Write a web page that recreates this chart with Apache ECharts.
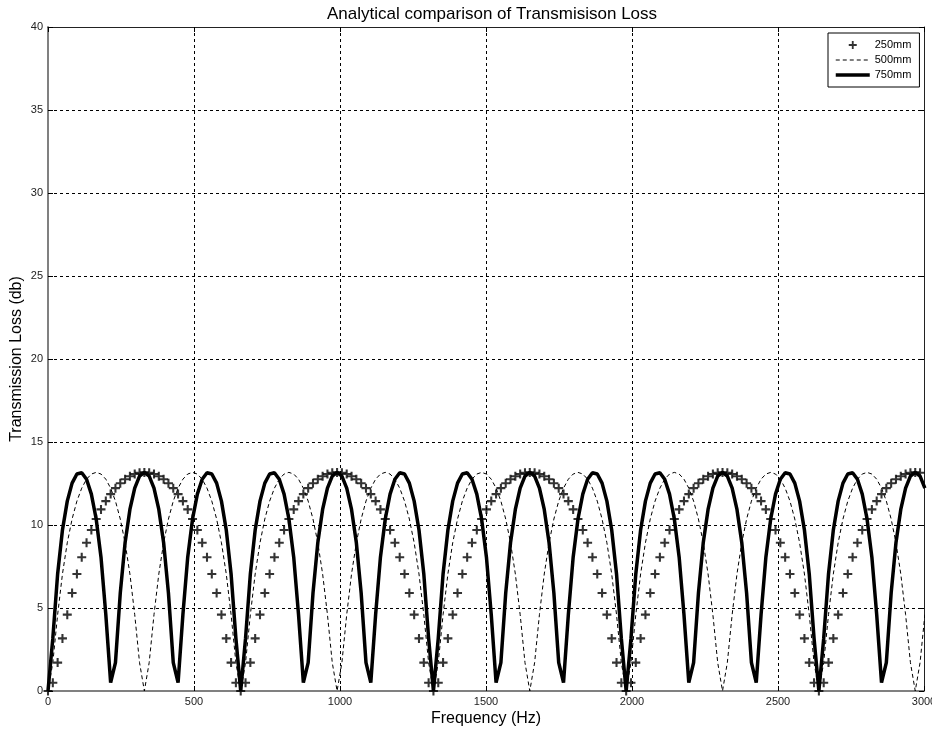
<!DOCTYPE html>
<html><head><meta charset="utf-8">
<script src="https://cdn.jsdelivr.net/npm/echarts@6/dist/echarts.min.js"></script>
<style>html,body{margin:0;padding:0;background:#fff}#c{width:932px;height:732px}</style>
</head><body><div id="c"></div>
<script>
const titleText = 'Analytical comparison of Transmisison Loss';
const xTitle = 'Frequency (Hz)';
const yTitle = 'Transmission Loss (db)';
const seriesNames = ['250mm', '500mm', '750mm'];
const xMin = 0, xMax = 3000, xStep = 500;
const yMin = 0, yMax = 40, yStep = 5;

const freq = [
0,16.5,33,49.5,66,82.5,99,115.5,132,148.5,
165,181.5,198,214.5,231,247.5,264,280.5,297,313.5,
330,346.5,363,379.5,396,412.5,429,445.5,462,478.5,
495,511.5,528,544.5,561,577.5,594,610.5,627,643.5,
660,676.5,693,709.5,726,742.5,759,775.5,792,808.5,
825,841.5,858,874.5,891,907.5,924,940.5,957,973.5,
990,1006.5,1023,1039.5,1056,1072.5,1089,1105.5,1122,1138.5,
1155,1171.5,1188,1204.5,1221,1237.5,1254,1270.5,1287,1303.5,
1320,1336.5,1353,1369.5,1386,1402.5,1419,1435.5,1452,1468.5,
1485,1501.5,1518,1534.5,1551,1567.5,1584,1600.5,1617,1633.5,
1650,1666.5,1683,1699.5,1716,1732.5,1749,1765.5,1782,1798.5,
1815,1831.5,1848,1864.5,1881,1897.5,1914,1930.5,1947,1963.5,
1980,1996.5,2013,2029.5,2046,2062.5,2079,2095.5,2112,2128.5,
2145,2161.5,2178,2194.5,2211,2227.5,2244,2260.5,2277,2293.5,
2310,2326.5,2343,2359.5,2376,2392.5,2409,2425.5,2442,2458.5,
2475,2491.5,2508,2524.5,2541,2557.5,2574,2590.5,2607,2623.5,
2640,2656.5,2673,2689.5,2706,2722.5,2739,2755.5,2772,2788.5,
2805,2821.5,2838,2854.5,2871,2887.5,2904,2920.5,2937,2953.5,
2970,2986.5,3003
];

const tl250 = [
0,0.50,1.71,3.17,4.60,5.90,7.05,8.06,8.93,9.70,
10.36,10.94,11.44,11.86,12.22,12.52,12.76,12.94,13.07,13.15,
13.17,13.15,13.07,12.94,12.76,12.52,12.22,11.86,11.44,10.94,
10.36,9.70,8.93,8.06,7.05,5.90,4.60,3.17,1.71,0.50,
0,0.50,1.71,3.17,4.60,5.90,7.05,8.06,8.93,9.70,
10.36,10.94,11.44,11.86,12.22,12.52,12.76,12.94,13.07,13.15,
13.17,13.15,13.07,12.94,12.76,12.52,12.22,11.86,11.44,10.94,
10.36,9.70,8.93,8.06,7.05,5.90,4.60,3.17,1.71,0.50,
0,0.50,1.71,3.17,4.60,5.90,7.05,8.06,8.93,9.70,
10.36,10.94,11.44,11.86,12.22,12.52,12.76,12.94,13.07,13.15,
13.17,13.15,13.07,12.94,12.76,12.52,12.22,11.86,11.44,10.94,
10.36,9.70,8.93,8.06,7.05,5.90,4.60,3.17,1.71,0.50,
0,0.50,1.71,3.17,4.60,5.90,7.05,8.06,8.93,9.70,
10.36,10.94,11.44,11.86,12.22,12.52,12.76,12.94,13.07,13.15,
13.17,13.15,13.07,12.94,12.76,12.52,12.22,11.86,11.44,10.94,
10.36,9.70,8.93,8.06,7.05,5.90,4.60,3.17,1.71,0.50,
0,0.50,1.71,3.17,4.60,5.90,7.05,8.06,8.93,9.70,
10.36,10.94,11.44,11.86,12.22,12.52,12.76,12.94,13.07,13.15,
13.17,13.15,13.07
];

const tl500 = [
0,1.71,4.60,7.05,8.93,10.36,11.44,12.22,12.76,13.07,
13.17,13.07,12.76,12.22,11.44,10.36,8.93,7.05,4.60,1.71,
0,1.71,4.60,7.05,8.93,10.36,11.44,12.22,12.76,13.07,
13.17,13.07,12.76,12.22,11.44,10.36,8.93,7.05,4.60,1.71,
0,1.71,4.60,7.05,8.93,10.36,11.44,12.22,12.76,13.07,
13.17,13.07,12.76,12.22,11.44,10.36,8.93,7.05,4.60,1.71,
0,1.71,4.60,7.05,8.93,10.36,11.44,12.22,12.76,13.07,
13.17,13.07,12.76,12.22,11.44,10.36,8.93,7.05,4.60,1.71,
0,1.71,4.60,7.05,8.93,10.36,11.44,12.22,12.76,13.07,
13.17,13.07,12.76,12.22,11.44,10.36,8.93,7.05,4.60,1.71,
0,1.71,4.60,7.05,8.93,10.36,11.44,12.22,12.76,13.07,
13.17,13.07,12.76,12.22,11.44,10.36,8.93,7.05,4.60,1.71,
0,1.71,4.60,7.05,8.93,10.36,11.44,12.22,12.76,13.07,
13.17,13.07,12.76,12.22,11.44,10.36,8.93,7.05,4.60,1.71,
0,1.71,4.60,7.05,8.93,10.36,11.44,12.22,12.76,13.07,
13.17,13.07,12.76,12.22,11.44,10.36,8.93,7.05,4.60,1.71,
0,1.71,4.60,7.05,8.93,10.36,11.44,12.22,12.76,13.07,
13.17,13.07,12.76,12.22,11.44,10.36,8.93,7.05,4.60,1.71,
0,1.71,4.60
];

const tl750 = [
0,3.17,7.05,9.70,11.44,12.52,13.07,13.15,12.76,11.86,
10.36,8.06,4.60,0.50,1.71,5.90,8.93,10.94,12.22,12.94,
13.17,12.94,12.22,10.94,8.93,5.90,1.71,0.50,4.60,8.06,
10.36,11.86,12.76,13.15,13.07,12.52,11.44,9.70,7.05,3.17,
0,3.17,7.05,9.70,11.44,12.52,13.07,13.15,12.76,11.86,
10.36,8.06,4.60,0.50,1.71,5.90,8.93,10.94,12.22,12.94,
13.17,12.94,12.22,10.94,8.93,5.90,1.71,0.50,4.60,8.06,
10.36,11.86,12.76,13.15,13.07,12.52,11.44,9.70,7.05,3.17,
0,3.17,7.05,9.70,11.44,12.52,13.07,13.15,12.76,11.86,
10.36,8.06,4.60,0.50,1.71,5.90,8.93,10.94,12.22,12.94,
13.17,12.94,12.22,10.94,8.93,5.90,1.71,0.50,4.60,8.06,
10.36,11.86,12.76,13.15,13.07,12.52,11.44,9.70,7.05,3.17,
0,3.17,7.05,9.70,11.44,12.52,13.07,13.15,12.76,11.86,
10.36,8.06,4.60,0.50,1.71,5.90,8.93,10.94,12.22,12.94,
13.17,12.94,12.22,10.94,8.93,5.90,1.71,0.50,4.60,8.06,
10.36,11.86,12.76,13.15,13.07,12.52,11.44,9.70,7.05,3.17,
0,3.17,7.05,9.70,11.44,12.52,13.07,13.15,12.76,11.86,
10.36,8.06,4.60,0.50,1.71,5.90,8.93,10.94,12.22,12.94,
13.17,12.94,12.22
];

const pairs = (ys) => freq.map((f, i) => [f, ys[i]]);
const FONT = 'Liberation Sans, Arial, sans-serif';
const plusPath = 'path://M3.85,0H6.15V3.85H10V6.15H6.15V10H3.85V6.15H0V3.85H3.85Z';
const plainNum = (v) => String(v);

const chart = echarts.init(document.getElementById('c'), null, {renderer: 'canvas'});
chart.setOption({
  animation: false,
  backgroundColor: '#fff',
  title: {
    text: titleText, left: 322, top: 1,
    textStyle: {fontFamily: FONT, fontSize: 17, fontWeight: 'normal', color: '#000'}
  },
  grid: {left: 48, right: 8, top: 27, bottom: 41, containLabel: false, outerBoundsMode: 'none'},
  legend: {
    orient: 'vertical', left: 828, top: 33, align: 'left',
    itemWidth: 34, itemHeight: 8, itemGap: 3,
    padding: [6, 8, 6, 6],
    borderColor: '#000', borderWidth: 1, backgroundColor: '#fff',
    textStyle: {fontFamily: FONT, fontSize: 11, color: '#000', lineHeight: 12},
    data: [
      {name: seriesNames[0]},
      {name: seriesNames[1], itemStyle: {opacity: 0, color: 'rgba(0,0,0,0)', borderWidth: 0},
       lineStyle: {width: 1, type: [4, 3], color: '#000'}},
      {name: seriesNames[2], itemStyle: {opacity: 0, color: 'rgba(0,0,0,0)', borderWidth: 0},
       lineStyle: {width: 3.5, color: '#000'}}
    ]
  },
  xAxis: [{
    type: 'value', min: xMin, max: xMax, interval: xStep, position: 'bottom',
    name: xTitle, nameLocation: 'middle', nameGap: 20, nameMoveOverlap: false,
    nameTextStyle: {fontFamily: FONT, fontSize: 16, color: '#000'},
    axisLine: {show: true, onZero: false, lineStyle: {color: '#808080', width: 2}},
    axisTick: {show: true, inside: true, length: 5, lineStyle: {color: '#000'}},
    axisLabel: {margin: 5, fontFamily: FONT, fontSize: 11, color: '#222', formatter: plainNum},
    splitLine: {show: true, lineStyle: {color: '#000', width: 1, type: [3, 3]}}
  }, {
    type: 'value', min: xMin, max: xMax, interval: xStep, position: 'top',
    axisLine: {show: true, onZero: false, lineStyle: {color: '#222', width: 1}},
    axisTick: {show: true, inside: true, length: 5, lineStyle: {color: '#000'}},
    axisLabel: {show: false}, splitLine: {show: false}
  }],
  yAxis: [{
    type: 'value', min: yMin, max: yMax, interval: yStep, position: 'left',
    name: yTitle, nameLocation: 'middle', nameGap: 23, nameMoveOverlap: false,
    nameTextStyle: {fontFamily: FONT, fontSize: 16, color: '#000'},
    axisLine: {show: true, onZero: false, lineStyle: {color: '#808080', width: 2}},
    axisTick: {show: true, inside: true, length: 5, lineStyle: {color: '#000'}},
    axisLabel: {margin: 5, fontFamily: FONT, fontSize: 11, color: '#222', formatter: plainNum},
    splitLine: {show: true, lineStyle: {color: '#000', width: 1, type: [3, 3]}}
  }, {
    type: 'value', min: yMin, max: yMax, interval: yStep, position: 'right',
    axisLine: {show: true, onZero: false, lineStyle: {color: '#222', width: 1}},
    axisTick: {show: true, inside: true, length: 5, lineStyle: {color: '#000'}},
    axisLabel: {show: false}, splitLine: {show: false}
  }],
  series: [{
    name: seriesNames[0], type: 'scatter', data: pairs(tl250),
    symbol: plusPath, symbolSize: 9, clip: true,
    itemStyle: {color: '#000'}
  }, {
    name: seriesNames[1], type: 'line', data: pairs(tl500),
    symbol: 'none', clip: true,
    lineStyle: {color: '#000', width: 1, type: [4, 3]},
    itemStyle: {color: '#000'}
  }, {
    name: seriesNames[2], type: 'line', data: pairs(tl750),
    symbol: 'none', clip: true,
    lineStyle: {color: '#000', width: 3.5},
    itemStyle: {color: '#000'}
  }]
});
</script>
</body></html>
